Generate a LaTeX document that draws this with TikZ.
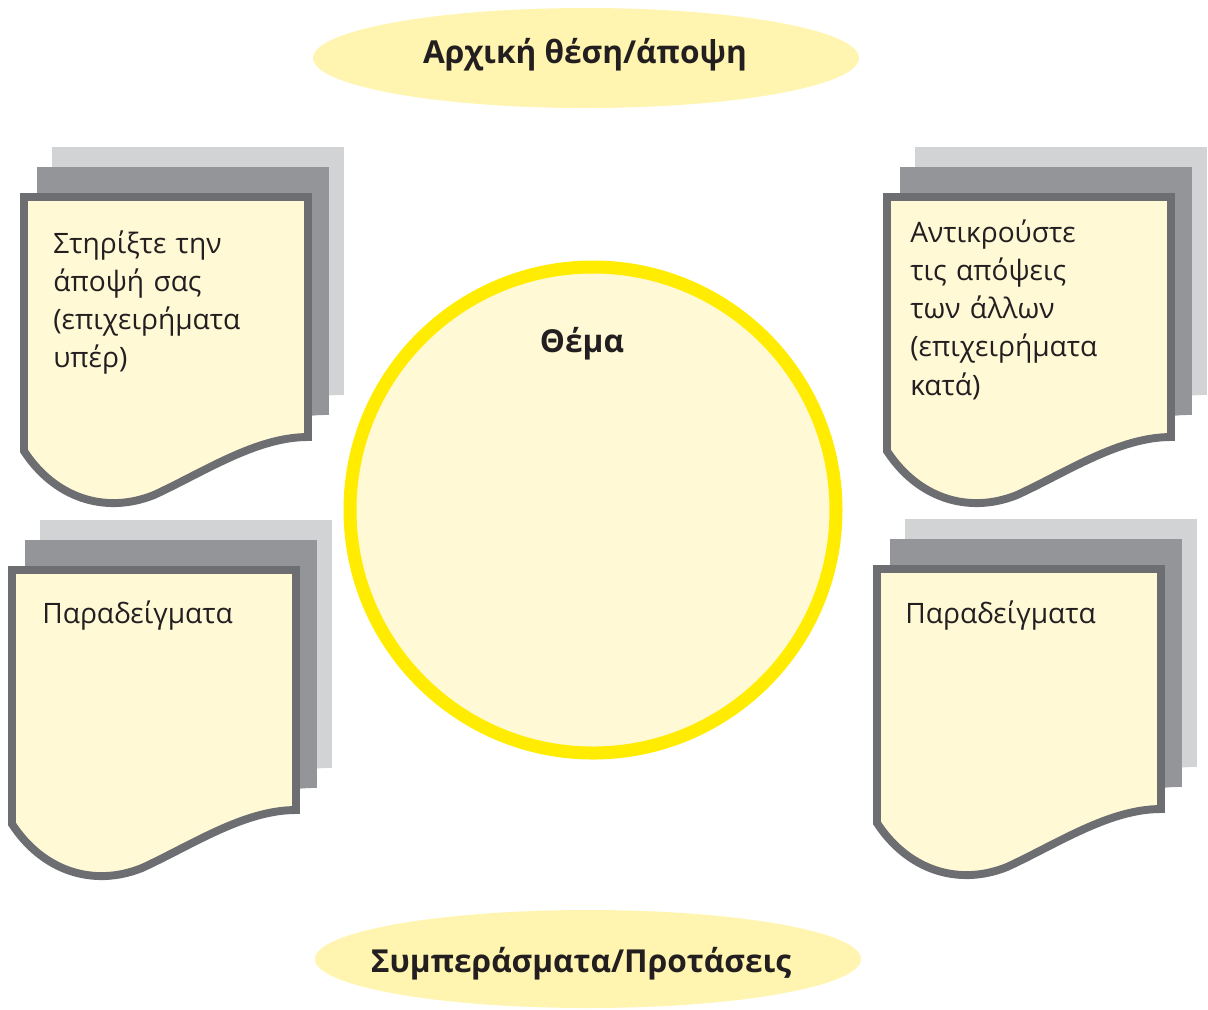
\documentclass[tikz,border=0pt]{standalone}
\usepackage{fontspec}
\setmainfont{Open Sans}
\definecolor{SheetLight}{RGB}{209,211,212}
\definecolor{SheetMid}{RGB}{147,149,152}
\definecolor{SheetEdge}{RGB}{109,110,113}
\definecolor{PaperYellow}{RGB}{255,249,214}
\definecolor{OvalYellow}{RGB}{255,245,176}
\definecolor{RingYellow}{RGB}{255,236,0}
\definecolor{InkDark}{RGB}{35,31,32}
\usetikzlibrary{positioning}
\tikzset{
  backsheet/.style={draw=SheetLight,fill=SheetLight,line width=4.5pt},
  midsheet/.style={draw=SheetMid,fill=SheetMid,line width=4.5pt},
  frontsheet/.style={draw=SheetEdge,fill=PaperYellow,line width=4.5pt},
  oval/.style={fill=OvalYellow},
  ring/.style={draw=RingYellow,fill=PaperYellow,line width=7.4pt},
  doctext/.style={inner sep=0pt,anchor=base west,text width=6cm,align=left,
    text=InkDark,font=\fontsize{16}{21.8}\selectfont},
  headtext/.style={inner sep=0pt,anchor=base,text=InkDark,
    font=\fontsize{18}{21}\selectfont\bfseries},
  pics/docstack/.style={code={
    \foreach \dx/\dy/\st in {32/-46/backsheet,17/-26/midsheet,0/0/frontsheet}
      \draw[\st,shift={(\dx,\dy)}] (0,0) -- (284,0) -- (284,240)
        .. controls (232,240) and (180,275) .. (130,298)
        .. controls (80,318) and (30,300) .. (0,254) -- cycle;
  }},
}
\begin{document}
\begin{tikzpicture}[x=0.02cm,y=-0.02cm]
  \useasboundingbox (0,0) rectangle (1208,1009);
  % ovals top and bottom
  \fill[oval] (586,58) ellipse [x radius=273,y radius=50];
  \fill[oval] (588,959) ellipse [x radius=273,y radius=49];
  \node[headtext] (start) at (585,63) {Αρχική θέση/άποψη};
  \node[headtext] (end) at (581,972) {Συμπεράσματα/Προτάσεις};
  % stacked sheets
  \pic at (24,197) {docstack};
  \pic at (887,197) {docstack};
  \pic at (12,570) {docstack};
  \pic at (877,569) {docstack};
  \node[doctext] (pro) at (53,253) {Στηρίξτε την\\άποψή σας\\(επιχειρήματα\\υπέρ)};
  \node[doctext] (con) at (910,242) {Αντικρούστε\\τις απόψεις\\των άλλων\\(επιχειρήματα\\κατά)};
  \node[doctext] (exl) at (42,623) {Παραδείγματα};
  \node[doctext] (exr) at (905,623) {Παραδείγματα};
  % topic circle
  \draw[ring] (593,510) circle [radius=243];
  \node[headtext] (topic) at (582,352) {Θέμα};
\end{tikzpicture}
\end{document}
